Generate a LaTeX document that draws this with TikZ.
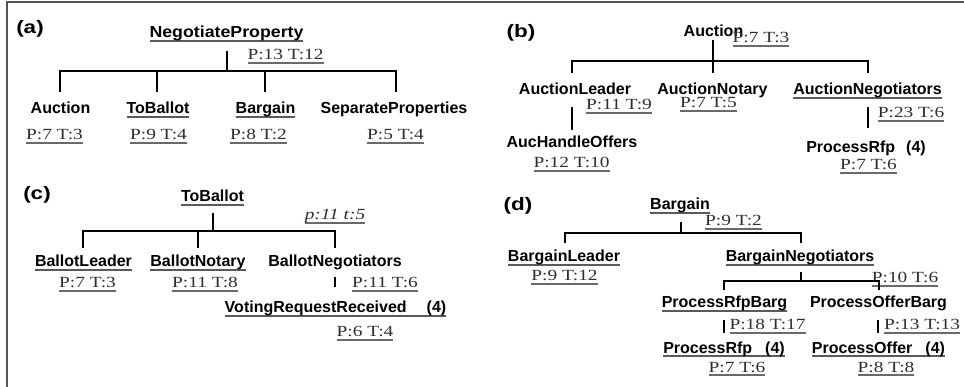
\documentclass[tikz,border=0pt]{standalone}
\usepackage{fontspec}
\setmainfont{Liberation Sans}
\newfontfamily\serifpt{Liberation Serif}[FakeStretch=1.25]
\newfontfamily\widesans{Liberation Sans}[FakeStretch=1.11]
\newfontfamily\panelsans{Liberation Sans}[FakeStretch=1.25]
\definecolor{ulname}{HTML}{5A5A5A}
\definecolor{ulpt}{HTML}{6A6A6A}
\definecolor{ptgray}{HTML}{2E2E2E}
\definecolor{framegray}{HTML}{555555}
\newsavebox\ulbox
\newcommand\ulname[1]{\sbox\ulbox{#1}\rlap{\textcolor{ulname}{\rule[-3.8pt]{\wd\ulbox}{2.2pt}}}\usebox\ulbox}
\newcommand\ulpt[1]{\sbox\ulbox{#1}\rlap{\textcolor{ulpt}{\rule[-3.6pt]{\wd\ulbox}{1.8pt}}}\usebox\ulbox}
\tikzset{
  nm/.style={inner sep=0pt, anchor=base, font=\bfseries\fontsize{16}{19}\selectfont, text=black},
  nmwide/.style={nm, font=\widesans\bfseries\fontsize{16}{19}\selectfont},
  ptlabel/.style={inner sep=0pt, anchor=base, font=\serifpt\fontsize{15.5}{18}\selectfont, text=ptgray},
  panellabel/.style={inner sep=0pt, anchor=base, font=\panelsans\bfseries\fontsize{18}{21}\selectfont, text=black},
  treeline/.style={line width=1.8pt, black},
  frameline/.style={line width=2pt, framegray}
}
\begin{document}
\begin{tikzpicture}[x=1pt,y=-1pt]
\useasboundingbox (0,0) rectangle (964,387);
% frame
\coordinate (fbl) at (7,388);
\coordinate (ftl) at (7,2);
\coordinate (ftr) at (965,2);
\draw[frameline] (fbl) -- (ftl) -- (ftr);

% ================= (a)
\node[panellabel] (pa) at (30,34) {(a)};
\node[nmwide] (a0) at (226.5,38) {\ulname{NegotiateProperty}};
\node[ptlabel] (a0p) at (285.5,60) {\ulpt{P:13 T:12}};
\node[nm] (a1) at (60.5,114) {Auction};
\node[nm] (a2) at (158,114) {\ulname{ToBallot}};
\node[nm] (a3) at (265.5,114) {\ulname{Bargain}};
\node[nm] (a4) at (394,114) {SeparateProperties};
\node[ptlabel] (a1p) at (54.5,140) {\ulpt{P:7 T:3}};
\node[ptlabel] (a2p) at (158.5,140) {\ulpt{P:9 T:4}};
\node[ptlabel] (a3p) at (258.5,140) {\ulpt{P:8 T:2}};
\node[ptlabel] (a4p) at (395.5,140) {\ulpt{P:5 T:4}};
\coordinate (aS) at (227,51);
\coordinate (aJ) at (227,71);
\coordinate (aD1) at (60,92);
\coordinate (aD2) at (157,92);
\coordinate (aD3) at (265,92);
\coordinate (aD4) at (396,92);
\draw[treeline] (aS) -- (aJ);
\draw[treeline] (aD1) |- (aJ) -| (aD4);
\draw[treeline] (aD2) -- (aD2 |- aJ);
\draw[treeline] (aD3) -- (aD3 |- aJ);

% ================= (b)
\node[panellabel] (pb) at (521,38) {(b)};
\node[nm] (b0) at (713.5,37) {Auction};
\node[ptlabel] (b0p) at (761,43) {\ulpt{P:7 T:3}};
\node[nm] (b1) at (575,95) {AuctionLeader};
\node[nm] (b2) at (712.5,95) {AuctionNotary};
\node[nm] (b3) at (867.5,95) {\ulname{AuctionNegotiators}};
\node[ptlabel] (b1p) at (619,110) {\ulpt{P:11 T:9}};
\node[ptlabel] (b2p) at (708.5,108) {\ulpt{P:7 T:5}};
\node[ptlabel] (b3p) at (911,118) {\ulpt{P:23 T:6}};
\node[nm] (b4) at (572,148) {AucHandleOffers};
\node[ptlabel] (b4p) at (571.5,168) {\ulpt{P:12 T:10}};
\node[nm] (b5) at (866,153) {ProcessRfp\hspace{11pt}(4)};
\node[ptlabel] (b5p) at (868.5,170) {\ulpt{P:7 T:6}};
\coordinate (bS) at (713,40);
\coordinate (bJ) at (713,61);
\coordinate (bD2) at (713,73);
\coordinate (bD1) at (572,73);
\coordinate (bD3) at (868,73);
\draw[treeline] (bS) -- (bD2);
\draw[treeline] (bD1) |- (bJ) -| (bD3);
\coordinate (b1a) at (572,107);
\coordinate (b1b) at (572,130);
\coordinate (b3a) at (868,107);
\coordinate (b3b) at (868,128);
\draw[treeline] (b1a) -- (b1b);
\draw[treeline] (b3a) -- (b3b);

% ================= (c)
\node[panellabel] (pc) at (37,200) {(c)};
\node[nm] (c0) at (212.5,202) {\ulname{ToBallot}};
\node[ptlabel] (c0p) at (335,220) {\ulpt{\itshape p:11 t:5}};
\node[nm] (c1) at (83.5,267) {\ulname{BallotLeader}};
\node[nm] (c2) at (198,267) {\ulname{BallotNotary}};
\node[nm] (c3) at (335,267) {BallotNegotiators};
\node[ptlabel] (c1p) at (87.5,288) {\ulpt{P:7 T:3}};
\node[ptlabel] (c2p) at (205,288) {\ulpt{P:11 T:8}};
\node[ptlabel] (c3p) at (385,288) {\ulpt{P:11 T:6}};
\node[nm] (c4) at (335.5,313) {\ulname{VotingRequestReceived\hspace{20pt}(4)}};
\node[ptlabel] (c4p) at (365,337) {\ulpt{P:6 T:4}};
\coordinate (cS) at (213,213);
\coordinate (cJ) at (213,231);
\coordinate (cD1) at (83,248);
\coordinate (cD2) at (198,248);
\coordinate (cD3) at (335,248);
\draw[treeline] (cS) -- (cJ);
\draw[treeline] (cD1) |- (cJ) -| (cD3);
\draw[treeline] (cD2) -- (cD2 |- cJ);
\coordinate (c3a) at (335,277);
\coordinate (c3b) at (335,287);
\draw[treeline] (c3a) -- (c3b);

% ================= (d)
\node[panellabel] (pd) at (518,211) {(d)};
\node[nm] (d0) at (680,210) {\ulname{Bargain}};
\node[ptlabel] (d0p) at (733.5,226) {\ulpt{P:9 T:2}};
\node[nm] (d1) at (564,262) {\ulname{BargainLeader}};
\node[nm] (d2) at (800,262) {\ulname{BargainNegotiators}};
\node[ptlabel] (d1p) at (564.5,281) {\ulpt{P:9 T:12}};
\node[ptlabel] (d2p) at (905,283) {\ulpt{P:10 T:6}};
\node[nm] (d3) at (724.5,308) {\ulname{ProcessRfpBarg}};
\node[nm] (d4) at (878.5,308) {ProcessOfferBarg};
\node[ptlabel] (d3p) at (767.5,330) {\ulpt{P:18 T:17}};
\node[ptlabel] (d4p) at (922,330) {\ulpt{P:13 T:13}};
\node[nm] (d5) at (724,353) {\ulname{ProcessRfp\hspace{13pt}(4)}};
\node[nm] (d6) at (878.5,353) {\ulname{ProcessOffer\hspace{13pt}(4)}};
\node[ptlabel] (d5p) at (737,372) {\ulpt{P:7 T:6}};
\node[ptlabel] (d6p) at (886,372) {\ulpt{P:8 T:8}};
\coordinate (dS) at (681,222);
\coordinate (dJ) at (681,233);
\coordinate (dD1) at (565,243);
\coordinate (dD2) at (801,243);
\draw[treeline] (dS) -- (dJ);
\draw[treeline] (dD1) |- (dJ) -| (dD2);
\coordinate (d2S) at (801,272);
\coordinate (d2J) at (801,281);
\coordinate (d2D1) at (724,290);
\coordinate (d2D2) at (879,290);
\draw[treeline] (d2S) -- (d2J);
\draw[treeline] (d2D1) |- (d2J) -| (d2D2);
\coordinate (d3a) at (724,320);
\coordinate (d3b) at (724,333);
\coordinate (d4a) at (878,320);
\coordinate (d4b) at (878,333);
\draw[treeline] (d3a) -- (d3b);
\draw[treeline] (d4a) -- (d4b);
\end{tikzpicture}
\end{document}
